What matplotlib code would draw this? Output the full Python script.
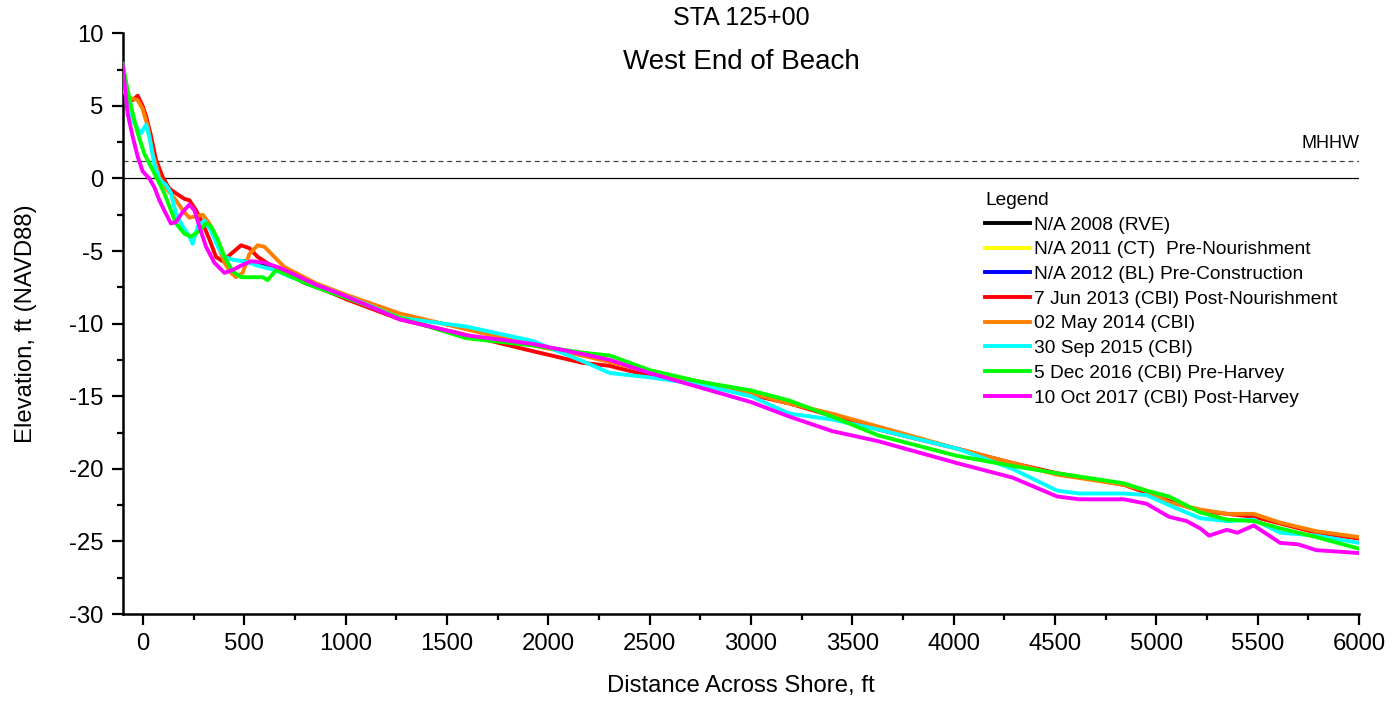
import matplotlib.pyplot as plt
from matplotlib.ticker import MultipleLocator

plt.rcParams['font.family'] = ['Liberation Sans', 'DejaVu Sans']
plt.rcParams['axes.unicode_minus'] = False

# survey profiles, distance (ft) and elevation (ft NAVD88)
dist_2008 = [500, 600, 700, 800, 900, 1000]
elev_2008 = [-5.7, -6.0, -6.5, -7.2, -7.7, -8.2]

dist_2011 = []
elev_2011 = []

dist_2012 = []
elev_2012 = []

dist_2013 = [-100, -76, -51, -26, -2, 15, 40, 64, 97, 130, 171, 204, 229, 262, 295,
             328, 360, 393, 434, 484, 525, 566, 632, 698, 850, 1000, 1267, 1600,
             1925, 2170, 2300, 2500, 2750, 3000, 3190, 3630, 4015, 4290, 4510,
             4840, 5060, 5216, 5480, 5790, 6000]
elev_2013 = [6.3, 5.5, 5.4, 5.7, 5.0, 4.3, 2.9, 1.3, 0.1, -0.7, -1.1, -1.4, -1.5, -2.2,
             -3.1, -4.2, -5.4, -5.7, -5.2, -4.6, -4.8, -5.4, -6.0, -6.5, -7.4, -8.3,
             -9.7, -10.8, -11.9, -12.7, -12.9, -13.6, -14.2, -14.9, -15.5, -17.3,
             -18.6, -19.6, -20.3, -21.1, -22.2, -22.9, -23.3, -24.4, -24.8]

dist_2014 = [-100, -76, -51, -26, -2, 23, 48, 81, 122, 163, 196, 229, 262, 295, 328,
             360, 402, 434, 459, 492, 525, 566, 599, 648, 698, 850, 1000, 1267, 1600,
             1925, 2200, 2500, 2750, 3000, 3190, 3400, 3630, 4015, 4290, 4510, 4840,
             4950, 5060, 5216, 5350, 5480, 5610, 5790, 6000]
elev_2014 = [6.6, 5.6, 5.5, 5.4, 4.8, 3.6, 1.7, 0.1, -0.8, -1.5, -2.2, -2.7, -2.6, -2.5,
             -3.1, -4.2, -5.8, -6.5, -6.8, -6.5, -5.2, -4.6, -4.7, -5.4, -6.1, -7.2,
             -8.0, -9.3, -10.4, -11.5, -12.3, -13.3, -14.0, -14.8, -15.5, -16.2, -17.1,
             -18.6, -19.6, -20.4, -21.1, -21.5, -22.3, -22.8, -23.1, -23.1, -23.7,
             -24.3, -24.7]

dist_2015 = [-100, -76, -43, -10, 15, 31, 56, 81, 114, 138, 163, 196, 229, 245, 270,
             303, 336, 369, 402, 443, 500, 566, 648, 730, 850, 1000, 1267, 1596, 1925,
             2172, 2304, 2500, 2600, 2750, 3000, 3190, 3400, 3630, 4015, 4290, 4510,
             4621, 4841, 4951, 5062, 5216, 5348, 5481, 5611, 5789, 6000]
elev_2015 = [6.6, 5.2, 3.8, 3.1, 3.7, 2.9, 1.0, -0.1, -0.45, -1.0, -2.4, -3.3, -4.0,
             -4.5, -3.3, -2.9, -3.6, -4.7, -5.4, -5.6, -5.7, -6.0, -6.3, -6.8, -7.3,
             -8.1, -9.6, -10.2, -11.2, -12.6, -13.4, -13.7, -13.9, -14.2, -15.0, -16.2,
             -16.6, -17.3, -18.6, -20.0, -21.5, -21.7, -21.7, -21.8, -22.5, -23.4,
             -23.6, -23.5, -24.4, -24.6, -25.1]

dist_2016 = [-100, -76, -51, -26, 7, 40, 73, 105, 138, 163, 204, 237, 270, 311, 336,
             369, 402, 443, 484, 533, 591, 615, 657, 844, 1000, 1267, 1596, 1925, 2172,
             2304, 2500, 2750, 3000, 3190, 3400, 3629, 4015, 4290, 4510, 4841, 4951,
             5062, 5216, 5348, 5481, 5611, 5789, 6000]
elev_2016 = [7.9, 6.1, 4.5, 3.1, 1.7, 0.8, -0.1, -1.0, -2.2, -3.1, -3.8, -4.0, -3.7,
             -3.1, -3.3, -4.2, -5.4, -6.4, -6.8, -6.8, -6.8, -7.0, -6.3, -7.45, -8.2,
             -9.6, -11.0, -11.5, -12.0, -12.2, -13.2, -14.0, -14.6, -15.3, -16.4,
             -17.7, -19.1, -19.8, -20.3, -21.0, -21.5, -21.9, -23.0, -23.5, -23.6,
             -24.1, -24.7, -25.5]

dist_2017 = [-100, -76, -51, -26, -2, 31, 56, 81, 105, 138, 163, 196, 229, 254, 278,
             311, 352, 402, 443, 484, 533, 599, 665, 730, 850, 1000, 1267, 1596, 1925,
             2172, 2304, 2500, 2750, 3000, 3189, 3400, 3629, 4015, 4290, 4510, 4621,
             4841, 4951, 5062, 5150, 5216, 5260, 5348, 5400, 5481, 5611, 5700, 5789,
             6000]
elev_2017 = [7.8, 4.5, 2.9, 1.5, 0.5, 0.0, -0.6, -1.5, -2.2, -3.1, -3.0, -2.3, -1.8,
             -2.2, -3.3, -4.7, -5.8, -6.5, -6.3, -6.0, -5.7, -5.8, -6.1, -6.5, -7.3,
             -8.1, -9.7, -10.8, -11.4, -12.1, -12.5, -13.4, -14.4, -15.4, -16.4,
             -17.4, -18.1, -19.6, -20.6, -21.9, -22.1, -22.1, -22.4, -23.3, -23.6,
             -24.1, -24.6, -24.2, -24.4, -23.9, -25.1, -25.2, -25.6, -25.8]

labels = ["N/A 2008 (RVE)", "N/A 2011 (CT)  Pre-Nourishment",
          "N/A 2012 (BL) Pre-Construction", "7 Jun 2013 (CBI) Post-Nourishment",
          "02 May 2014 (CBI)", "30 Sep 2015 (CBI)", "5 Dec 2016 (CBI) Pre-Harvey",
          "10 Oct 2017 (CBI) Post-Harvey"]
colors = ["#000000", "#FFFF00", "#0000FF", "#FF0000", "#FF8000", "#00FFFF",
          "#00FF00", "#FF00FF"]

mhhw = 1.2


def main():
    fig = plt.figure(figsize=(13.93, 7.04), dpi=100)
    ax = fig.add_axes([0.0881, 0.1278, 0.8875, 0.8249])

    ax.axhline(0, color='black', lw=0.9, zorder=1)
    ax.axhline(mhhw, color='#444444', lw=0.9, ls=(0, (4, 3)), zorder=1)

    dists = [dist_2008, dist_2011, dist_2012, dist_2013, dist_2014, dist_2015,
             dist_2016, dist_2017]
    elevs = [elev_2008, elev_2011, elev_2012, elev_2013, elev_2014, elev_2015,
             elev_2016, elev_2017]
    for i in range(len(labels)):
        ax.plot(dists[i], elevs[i], color=colors[i], lw=2.8, label=labels[i],
                solid_joinstyle='round', zorder=2 + i)

    ax.set_xlim(-100, 6000)
    ax.set_ylim(-30, 10)
    ax.xaxis.set_major_locator(MultipleLocator(500))
    ax.xaxis.set_minor_locator(MultipleLocator(250))
    ax.yaxis.set_major_locator(MultipleLocator(5))
    ax.yaxis.set_minor_locator(MultipleLocator(2.5))
    ax.spines['top'].set_visible(False)
    ax.spines['right'].set_visible(False)
    ax.spines['left'].set_linewidth(1.8)
    ax.spines['bottom'].set_linewidth(1.8)
    ax.tick_params(which='major', direction='out', length=8, width=1.6,
                   labelsize=17.2, pad=6)
    ax.tick_params(which='minor', direction='out', length=4.5, width=1.6)

    ax.set_xlabel("Distance Across Shore, ft", fontsize=17.2, labelpad=14)
    ax.set_ylabel("Elevation, ft (NAVD88)", fontsize=17.2, labelpad=23)

    fig.text(740.9 / 1393, 1 - 18.3 / 704, "STA 125+00", ha='center',
             va='center', fontsize=18)
    fig.text(740.9 / 1393, 1 - 61.7 / 704, "West End of Beach", ha='center',
             va='center', fontsize=20)
    ax.text(6000, 2.42, "MHHW", ha='right', va='center', fontsize=13)

    ax.legend(loc='upper left', bbox_to_anchor=(985 / 1393, 1 - 192 / 704),
              bbox_transform=fig.transFigure, frameon=False, title="Legend",
              alignment='left', fontsize=13.8, title_fontsize=13.8,
              handlelength=2.35, handletextpad=0.2, labelspacing=0.38,
              borderpad=0, borderaxespad=0)

    fig.savefig("out.png", dpi=100)


if __name__ == "__main__":
    main()
